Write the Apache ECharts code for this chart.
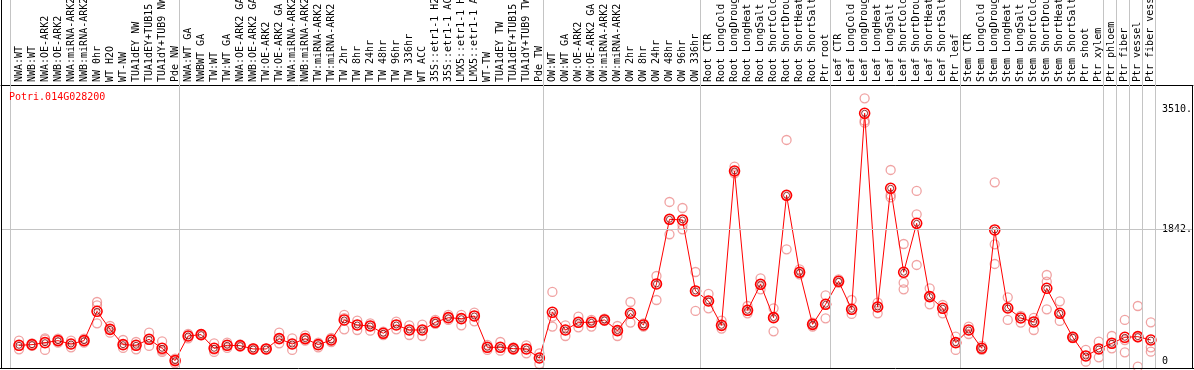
<!DOCTYPE html>
<html><head><meta charset="utf-8">
<script src="https://cdn.jsdelivr.net/npm/echarts@6/dist/echarts.min.js"></script>
<style>html,body{margin:0;padding:0;background:#fff}#c{width:1194px;height:370px}</style>
</head><body><div id="c"></div>
<script>
const geneName = 'Potri.014G028200';
const categories = [
 'NWA:WT','NWB:WT','NWA:OE-ARK2','NWB:OE-ARK2','NWA:miRNA-ARK2','NWB:miRNA-ARK2','NW 0hr','WT H2O','WT-NW','TUA1dEY NW','TUA1dEY+TUB15','TUA1dY+TUB9 NW','Pde NW',
 'NWA:WT GA','NWBWT GA','TW:WT','TW:WT GA','NWA:OE-ARK2 GA','NWB:OE-ARK2 GA','TW:OE-ARK2','TW:OE-ARK2 GA','NWA:miRNA-ARK2','NWB:miRNA-ARK2','TW:miRNA-ARK2','TW:miRNA-ARK2','TW 2hr','TW 8hr','TW 24hr','TW 48hr','TW 96hr','TW 336hr','WT ACC','35S::etr1-1 H2O','35S::etr1-1 ACC','LMX5::etr1-1 H2O','LMX5::etr1-1 ACC','WT-TW','TUA1dEY TW','TUA1dEY+TUB15','TUA1dY+TUB9 TW','Pde TW',
 'OW:WT','OW:WT GA','OW:OE-ARK2','OW:OE-ARK2 GA','OW:miRNA-ARK2','OW:miRNA-ARK2','OW 2hr','OW 8hr','OW 24hr','OW 48hr','OW 96hr','OW 336hr',
 'Root CTR','Root LongCold','Root LongDrought','Root LongHeat','Root LongSalt','Root ShortCold','Root ShortDrought','Root ShortHeat','Root ShortSalt','Ptr root',
 'Leaf CTR','Leaf LongCold','Leaf LongDrought','Leaf LongHeat','Leaf LongSalt','Leaf ShortCold','Leaf ShortDrought','Leaf ShortHeat','Leaf ShortSalt','Ptr leaf',
 'Stem CTR','Stem LongCold','Stem LongDrought','Stem LongHeat','Stem LongSalt','Stem ShortCold','Stem ShortDrought','Stem ShortHeat','Stem ShortSalt','Ptr shoot','Ptr xylem',
 'Ptr phloem','Ptr fiber','Ptr vessel','Ptr fiber vessel'
];
const groupSizes = [13, 28, 12, 10, 10, 11, 1, 1, 1, 1];
const means = [
 219,228,256,284,237,284,694,442,228,219,303,177,5,
 349,368,177,219,214,168,168,312,237,312,228,293,573,503,489,387,503,433,433,540,605,591,629,191,191,172,168,42,
 680,433,540,540,573,424,666,503,1076,1979,1970,978,
 838,498,2654,708,1071,605,2314,1239,512,792,
 1113,722,3460,754,2412,1239,1923,899,736,256,
 433,177,1830,740,601,545,1015,666,331,70,168,
 247,331,340,293
];
const rep1 = [
 284,245,317,312,284,312,824,489,293,265,396,275,33,
 380,375,247,256,230,180,172,396,317,359,256,321,643,563,526,410,549,498,508,573,643,643,675,224,265,190,219,107,
 964,498,619,573,590,489,824,526,1187,2221,2137,1243,
 936,563,2715,768,1155,736,3087,1281,536,917,
 1141,852,3669,815,2668,1634,2375,1015,782,340,
 480,210,2496,889,629,601,1201,834,340,154,270,
 349,573,768,540
];
const rep2 = [
 210,228,297,284,237,284,778,442,228,219,303,150,10,
 349,368,158,219,214,165,168,312,237,312,228,293,600,503,489,387,503,433,433,540,605,591,629,191,191,172,168,42,
 619,433,540,540,573,424,666,503,1076,1979,1900,978,
 838,498,2654,708,1071,605,2314,1239,512,792,
 1113,722,3357,754,2319,1094,2049,899,736,256,
 433,177,1630,740,601,545,1108,666,331,70,168,
 247,293,331,191
];
const rep3 = [
 163,212,154,256,191,256,526,396,182,163,210,126,-33,
 317,360,126,182,200,160,164,247,154,284,191,265,442,433,424,363,442,363,349,520,573,498,554,154,144,155,107,-42,
 480,349,470,480,560,349,536,480,852,1770,1839,699,
 736,452,2622,666,1001,414,1560,1211,480,596,
 1090,657,3329,666,2286,1001,1341,792,666,154,
 377,154,1355,573,536,433,722,559,320,-9,51,
 177,121,-79,130
];
const yTickValues = [0, 1842, 3510];

const idx = categories.map((_, i) => i);
const pts = arr => arr.map((v, i) => [i, v]);
const separators = [];
let cum = -1;
separators.push(cum + 0.33);
groupSizes.forEach(s => { cum += s; separators.push(cum + 0.33); });

const mono = 'DejaVu Sans Mono';
const X_MIN = -1.383, X_MAX = 90.24;
const repStyle = { color: 'rgba(0,0,0,0)', borderColor: 'rgba(232,110,110,0.8)', borderWidth: 1.3 };
const sepLine = { silent: true, symbol: ['none', 'none'], label: { show: false },
  lineStyle: { color: '#c4c4c4', type: 'solid', width: 1 } };
const chart = echarts.init(document.getElementById('c'), null, { renderer: 'canvas' });
chart.setOption({
  animation: false,
  backgroundColor: '#fff',
  title: { text: geneName, left: 9, top: 92, padding: 0,
    textStyle: { color: '#ff0000', fontFamily: mono, fontSize: 10, fontWeight: 'normal' } },
  grid: [
    { left: 1, top: 85, width: 1192, height: 283, containLabel: false, outerBoundsMode: 'none' },
    { left: 1, top: 0, width: 1192, height: 85, containLabel: false, outerBoundsMode: 'none' }
  ],
  xAxis: [{
    gridIndex: 0, type: 'value', min: X_MIN, max: X_MAX, position: 'top',
    axisLine: { show: true, onZero: false, lineStyle: { color: '#000', width: 1 } },
    axisTick: { show: false }, splitLine: { show: false },
    axisLabel: { customValues: idx, formatter: v => categories[Math.round(v)] || '',
      rotate: -90, margin: 3, color: '#000', fontFamily: mono, fontSize: 10, hideOverlap: false }
  }, {
    gridIndex: 1, type: 'value', min: X_MIN, max: X_MAX, show: false
  }],
  yAxis: [{
    gridIndex: 0, type: 'value', min: -98, max: 3855, position: 'right',
    axisLine: { show: false }, axisTick: { show: false }, splitLine: { show: false },
    axisLabel: { inside: true, customValues: yTickValues, align: 'left', margin: 31,
      formatter: v => v === 0 ? '0' : v + '.', color: '#000', fontFamily: mono, fontSize: 10 }
  }, {
    gridIndex: 1, type: 'value', min: 0, max: 1, show: false
  }],
  graphic: [
    { type: 'line', z: 100, shape: { x1: 1.5, y1: 0, x2: 1.5, y2: 368 }, style: { stroke: '#000', lineWidth: 1 } },
    { type: 'line', z: 100, shape: { x1: 1192.5, y1: 85, x2: 1192.5, y2: 368 }, style: { stroke: '#000', lineWidth: 1 } },
    { type: 'line', z: 100, shape: { x1: 0, y1: 368.5, x2: 1194, y2: 368.5 }, style: { stroke: '#000', lineWidth: 1 } }
  ],
  series: [
    { type: 'line', xAxisIndex: 1, yAxisIndex: 1, data: [], silent: true,
      markLine: Object.assign({ data: separators.map(x => ({ xAxis: x })) }, sepLine) },
    { type: 'scatter', data: pts(rep1), symbol: 'circle', symbolSize: 9, itemStyle: repStyle, z: 2 },
    { type: 'scatter', data: pts(rep2), symbol: 'circle', symbolSize: 9, itemStyle: repStyle, z: 2 },
    { type: 'scatter', data: pts(rep3), symbol: 'circle', symbolSize: 9, itemStyle: repStyle, z: 2 },
    { type: 'line', data: pts(means), symbol: 'circle', symbolSize: 10, z: 3,
      lineStyle: { color: '#ff0000', width: 1 },
      itemStyle: { color: 'rgba(0,0,0,0)', borderColor: '#ff0000', borderWidth: 1.6 },
      markLine: Object.assign({ data: separators.map(x => ({ xAxis: x })).concat([{ yAxis: yTickValues[1] }]) }, sepLine) },
    { type: 'scatter', data: pts(means), symbol: 'circle', symbolSize: 6, z: 4,
      itemStyle: { color: 'rgba(0,0,0,0)', borderColor: '#7a0000', borderWidth: 1 } }
  ]
});
</script></body></html>
